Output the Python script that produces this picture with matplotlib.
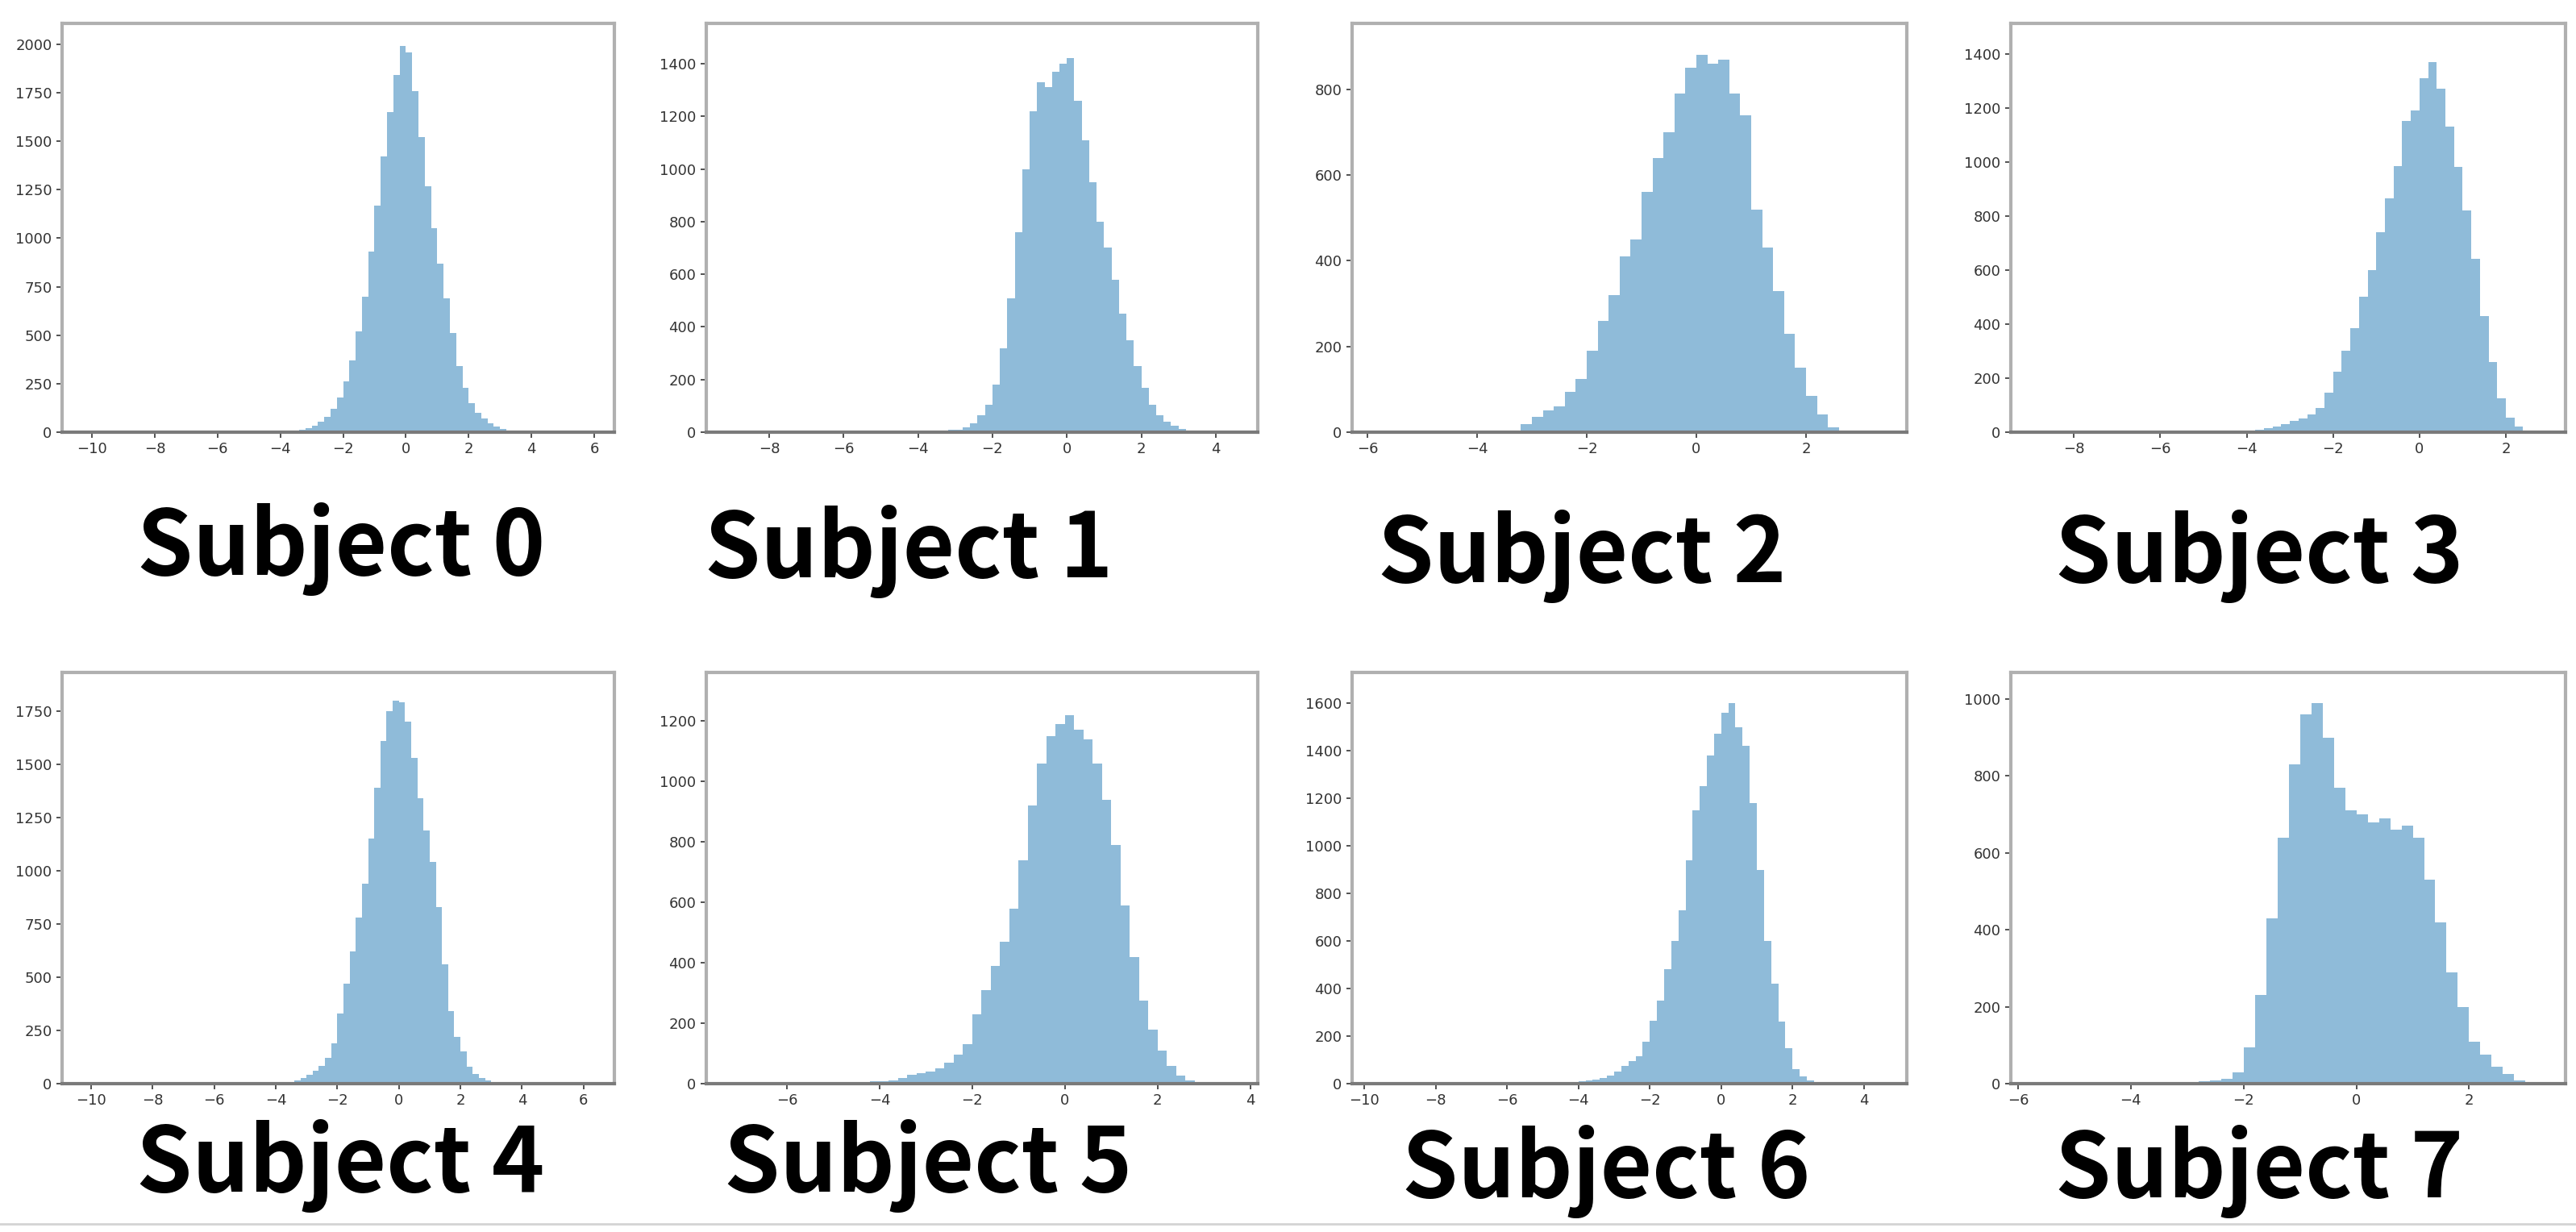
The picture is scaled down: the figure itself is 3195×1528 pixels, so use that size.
import numpy as np
import matplotlib
matplotlib.use("Agg")
import matplotlib.pyplot as plt
from matplotlib.ticker import MultipleLocator
from matplotlib.lines import Line2D

# histogram counts, 0.2-wide bins starting at bin_start
labels = ["Subject 0", "Subject 1", "Subject 2", "Subject 3",
          "Subject 4", "Subject 5", "Subject 6", "Subject 7"]
bin_width = 0.2

s0_start = -4.0
s0_counts = [3, 5, 8, 12, 20, 35, 55, 80, 120, 180, 260, 370, 520, 700, 930, 1170,
             1420, 1650, 1840, 1990, 1960, 1760, 1520, 1270, 1050, 870, 690, 510,
             340, 230, 150, 100, 70, 45, 28, 16, 9, 5, 3, 2]

s1_start = -4.0
s1_counts = [3, 4, 5, 6, 8, 10, 18, 35, 65, 105, 180, 320, 510, 760, 1000, 1220,
             1330, 1310, 1370, 1400, 1420, 1260, 1110, 950, 800, 700, 580, 450,
             350, 250, 170, 105, 65, 40, 25, 12, 5]

s2_start = -3.4
s2_counts = [4, 18, 35, 50, 60, 95, 125, 190, 260, 320, 410, 450, 560, 640, 700,
             790, 850, 880, 860, 870, 790, 740, 520, 430, 330, 230, 150, 85, 42, 12]

s3_start = -4.2
s3_counts = [4, 6, 9, 14, 20, 30, 42, 52, 65, 90, 145, 225, 300, 385, 500, 600,
             740, 865, 985, 1150, 1190, 1310, 1370, 1270, 1130, 980, 820, 640,
             430, 260, 125, 55, 20, 5]

s4_start = -3.8
s4_counts = [4, 8, 14, 25, 40, 60, 85, 120, 190, 330, 470, 620, 780, 940, 1150,
             1390, 1610, 1750, 1800, 1790, 1700, 1530, 1340, 1190, 1040, 830, 560,
             340, 220, 150, 80, 45, 25, 14, 8, 4]

s5_start = -4.6
s5_counts = [4, 5, 7, 9, 12, 20, 30, 35, 40, 50, 70, 95, 130, 230, 310, 390, 470,
             580, 740, 920, 1060, 1150, 1190, 1220, 1170, 1140, 1060, 940, 790,
             590, 420, 275, 180, 110, 60, 28, 12, 5]

s6_start = -4.2
s6_counts = [8, 10, 13, 18, 24, 34, 50, 75, 95, 115, 175, 265, 350, 480, 600, 730,
             940, 1150, 1250, 1380, 1470, 1560, 1600, 1500, 1420, 1180, 900, 600,
             420, 260, 150, 60, 30, 12, 5]

s7_start = -4.0
s7_counts = [3, 3, 4, 4, 5, 5, 6, 8, 12, 30, 95, 230, 430, 640, 830, 960, 990, 900,
             770, 710, 700, 680, 690, 660, 670, 640, 530, 420, 290, 200, 110, 75,
             45, 25, 8]

starts = [s0_start, s1_start, s2_start, s3_start, s4_start, s5_start, s6_start, s7_start]
counts = [s0_counts, s1_counts, s2_counts, s3_counts, s4_counts, s5_counts, s6_counts, s7_counts]

# axis ranges and tick steps of each screenshot
xlims = [(-10.95, 6.64), (-9.69, 5.13), (-6.28, 3.84), (-9.46, 3.38),
         (-10.94, 7.0), (-7.74, 4.16), (-10.34, 5.2), (-6.13, 3.71)]
ylims = [2108, 1553, 954, 1512, 1932, 1360, 1729, 1069]
ysteps = [250, 200, 200, 200, 250, 200, 200, 200]

W, H = 3195, 1528
fig = plt.figure(figsize=(W / 100, H / 100), dpi=100)

col_x = [(77, 762), (876, 1560), (1677, 2365), (2494, 3182)]
row_y = [(29, 536), (834, 1344)]
label_pos = [(423, 713), (1127, 716), (1962, 722), (2802, 722),
             (422, 1478), (1151, 1478), (1992, 1485), (2802, 1485)]

for i in range(8):
    r, c = divmod(i, 4)
    x0, x1 = col_x[c]
    y0, y1 = row_y[r]
    ax = fig.add_axes([x0 / W, 1 - y1 / H, (x1 - x0) / W, (y1 - y0) / H])
    cnt = np.array(counts[i], dtype=float)
    edges = starts[i] + bin_width * np.arange(len(cnt) + 1)
    ax.stairs(cnt, edges, fill=True, color="#8fbbd9")
    ax.set_xlim(*xlims[i])
    ax.set_ylim(0, ylims[i])
    ax.xaxis.set_major_locator(MultipleLocator(2))
    ax.yaxis.set_major_locator(MultipleLocator(ysteps[i]))
    ax.tick_params(labelsize=13, length=5, width=1.2, pad=4, colors="#333333")
    for side in ["top", "right", "left"]:
        ax.spines[side].set_color("#b0b0b0")
        ax.spines[side].set_linewidth(3)
    ax.spines["bottom"].set_color("#7a7a7a")
    ax.spines["bottom"].set_linewidth(3)

    lx, ly = label_pos[i]
    fig.text(lx / W, 1 - ly / H, labels[i], ha="center", va="baseline",
             fontsize=80, fontweight="bold",
             family=["Noto Sans CJK JP", "DejaVu Sans"], color="black")

# screenshot border at the bottom
fig.add_artist(Line2D([0, 1], [1 - 1518 / H] * 2, color="#d4d4d4", lw=2))

fig.savefig("out.png", dpi=100, facecolor="white")
